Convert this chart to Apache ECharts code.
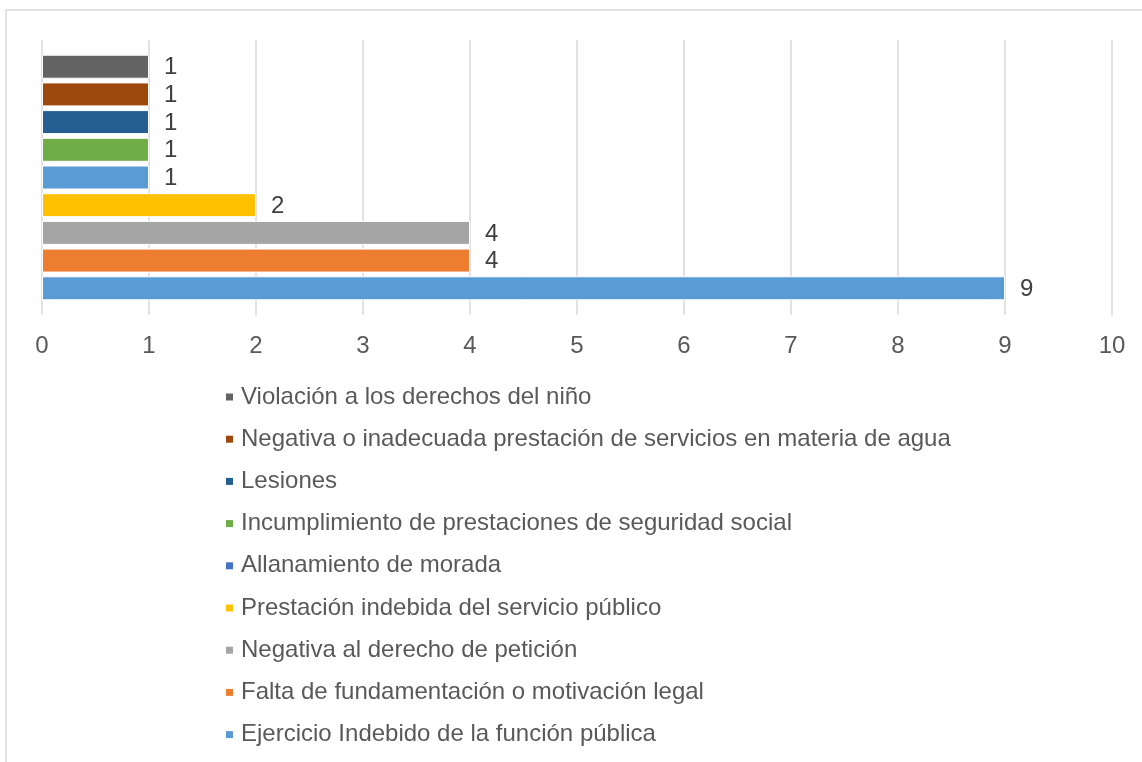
<!DOCTYPE html>
<html>
    <head>
        <meta charset="utf-8" />
        <script src="https://cdn.jsdelivr.net/npm/echarts@6.0.0/dist/echarts.min.js"></script>
        <style>
            body { margin: 0; background: #fff; }
        </style>
    </head>
    <body>
        <div id="main" style="width: 1142px; height: 762px"></div>
        <script type="text/javascript">
            // series names, top to bottom as drawn
            const seriesNames = [
                "Violación a los derechos del niño",
                "Negativa o inadecuada prestación de servicios en materia de agua",
                "Lesiones",
                "Incumplimiento de prestaciones de seguridad social",
                "Allanamiento de morada",
                "Prestación indebida del servicio público",
                "Negativa al derecho de petición",
                "Falta de fundamentación o motivación legal",
                "Ejercicio Indebido de la función pública",
            ];
            const seriesValues = [1, 1, 1, 1, 1, 2, 4, 4, 9];
            const xTicks = [0, 1, 2, 3, 4, 5, 6, 7, 8, 9, 10];

            const barColors = ["#636363", "#9E480E", "#255E91", "#70AD47", "#5B9BD5", "#FFC000", "#A5A5A5", "#ED7D31", "#5B9BD5"];
            const legendColors = ["#636363", "#9E480E", "#255E91", "#70AD47", "#4472C4", "#FFC000", "#A5A5A5", "#ED7D31", "#5B9BD5"];

            const font = '"Liberation Sans", Arial, sans-serif';
            var myChart = echarts.init(document.getElementById("main"));

            myChart.setOption({
                animation: false,
                graphic: [
                    {
                        type: "rect",
                        shape: { x: 6, y: 10, width: 1300, height: 900 },
                        style: { fill: "none", stroke: "#d9d9d9", lineWidth: 1.5 },
                        silent: true,
                    },
                ],
                grid: { left: 42, right: 30, top: 40, bottom: 447 },
                legend: {
                    orient: "vertical",
                    left: 226,
                    top: 385,
                    padding: 0,
                    itemWidth: 7,
                    itemHeight: 7,
                    itemGap: 18.2,
                    icon: "rect",
                    itemStyle: { borderWidth: 0 },
                    data: seriesNames.map((n, i) => ({ name: n, itemStyle: { color: legendColors[i], borderWidth: 0 } })),
                    textStyle: { fontFamily: font, fontSize: 24, color: "#595959", padding: [0, 0, 0, 3] },
                },
                xAxis: {
                    type: "value",
                    min: xTicks[0],
                    max: xTicks[xTicks.length - 1],
                    interval: 1,
                    axisLine: { show: false },
                    axisTick: { show: false },
                    splitLine: { lineStyle: { color: "#d9d9d9", width: 1.5 } },
                    axisLabel: { margin: 19, fontFamily: font, fontSize: 24, color: "#595959" },
                },
                yAxis: {
                    type: "category",
                    data: [""],
                    show: false,
                },
                series: seriesNames.map((n, i) => ({
                    name: n,
                    type: "bar",
                    data: [seriesValues[i]],
                    barWidth: 24,
                    barGap: "15.4%",
                    itemStyle: { color: barColors[i], borderColor: "#fff", borderWidth: 1 },
                    label: {
                        show: true,
                        position: "right",
                        distance: 15,
                        offset: [0, 1],
                        fontFamily: font,
                        fontSize: 24,
                        color: "#404040",
                    },
                })),
            });
        </script>
    </body>
</html>
